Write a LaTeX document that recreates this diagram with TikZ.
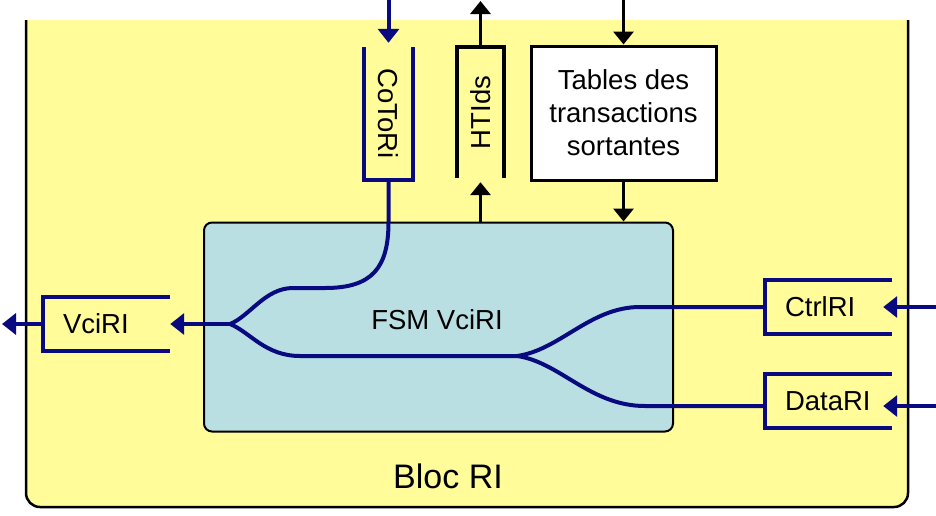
\documentclass[tikz,border=0pt]{standalone}
\usepackage{fontspec}
\setmainfont{Liberation Sans}
\usetikzlibrary{positioning, calc, arrows.meta}
\definecolor{busColor}{RGB}{10,10,128}
\definecolor{blocColor}{RGB}{255,252,153}
\definecolor{fsmColor}{RGB}{185,223,227}
\tikzset{
    bus/.style={
        draw=busColor,
        line width=4pt
    },
    busarrow/.style={bus, -{Triangle[length=14pt,width=21pt]}},
    sig/.style={
        draw=black,
        line width=3.5pt
    },
    sigarrow/.style={sig, -{Triangle[length=13pt,width=20pt]}},
    port/.style={
        minimum width=127pt,
        minimum height=54pt,
        inner xsep=20pt,
        text width=87pt,
        align=left
    },
    vport/.style={
        minimum width=49pt,
        minimum height=133pt,
        inner sep=0pt
    }
}

\begin{document}
\begin{tikzpicture}[x=1pt, y=-1pt, font=\fontsize{27.5}{33}\selectfont]
    \useasboundingbox (0,0) rectangle (936,515);

    % bloc RI
    \filldraw[fill=blocColor, line width=2.5pt, rounded corners=14pt] (26,20) -- (26,507) -- (908,507) -- (908,20);
    \node[font=\fontsize{34}{40}\selectfont] (bloc) at (448,476) {Bloc RI};

    \node[draw, line width=2pt, fill=fsmColor, rounded corners=8pt, minimum width=469pt, minimum height=209pt] (fsm) at (438.5,327) {};
    \node (fsmtxt) at (437,320) {FSM VciRI};

    \node[port] (vci) at (106.5,324) {VciRI};
    \node[port] (ctrl) at (828.5,307) {CtrlRI};
    \node[port] (data) at (828.5,401) {DataRI};
    \node[vport] (cot) at (388.5,113.5) {\rotatebox{-90}{CoToRi}};
    \node[vport, minimum width=47pt, minimum height=131pt] (ht) at (480.5,112.5) {\rotatebox{90}{HTIds}};
    \node[draw, fill=white, line width=3pt, minimum width=185pt, minimum height=134pt, align=center] (tab) at (623.5,113) {Tables des\\transactions\\sortantes};

    \draw[bus] (vci.north east) -| (vci.south west) -- (vci.south east);
    \draw[bus] (ctrl.north east) -| (ctrl.south west) -- (ctrl.south east);
    \draw[bus] (data.north east) -| (data.south west) -- (data.south east);
    \draw[bus] (cot.north west) |- (cot.south east) -- (cot.north east);
    \draw[sig] (ht.south west) |- (ht.north east) -- (ht.south east);

    % bus
    \coordinate (cotIn) at (388.5,0);
    \coordinate (vciOut) at (2,324);
    \coordinate (ctrlIn) at (936,307);
    \coordinate (dataIn) at (936,406);
    \coordinate (j1) at (230,324);
    \coordinate (j2) at (517,356);
    \draw[busarrow] (cotIn) -- ([yshift=4pt]cot.north);
    \draw[busarrow] (vci.west) -- (vciOut);
    \draw[busarrow] (j1) -- (vci.east);
    \draw[bus] (cot.south) -- (388.5,222) .. controls (388.5,268) and (372,288) .. (325,288) -- (293,288) .. controls (265,288) and (250,316) .. (j1);
    \draw[bus] (j1) .. controls (250,332) and (265,356) .. (300,356) -- (j2);
    \draw[bus] (j2) .. controls (560,350) and (590,307) .. (640,307) -- (ctrl.west);
    \draw[bus] (j2) .. controls (560,362) and (590,406) .. (645,406) -- ([yshift=-5pt]data.west);
    \draw[busarrow] (ctrlIn) -- ([xshift=-9pt]ctrl.east);
    \draw[busarrow] (dataIn) -- ([xshift=-9pt,yshift=-5pt]data.east);

    \coordinate (htOut) at (480.5,1);
    \coordinate (tabIn) at (623.5,0);
    \draw[sigarrow] (ht.north) -- (htOut);
    \draw[sigarrow] (fsm.north -| ht.south) -- ([yshift=-4pt]ht.south);
    \draw[sigarrow] (tabIn) -- (tab.north);
    \draw[sigarrow] (tab.south) -- (tab.south |- fsm.north);
\end{tikzpicture}
\end{document}
